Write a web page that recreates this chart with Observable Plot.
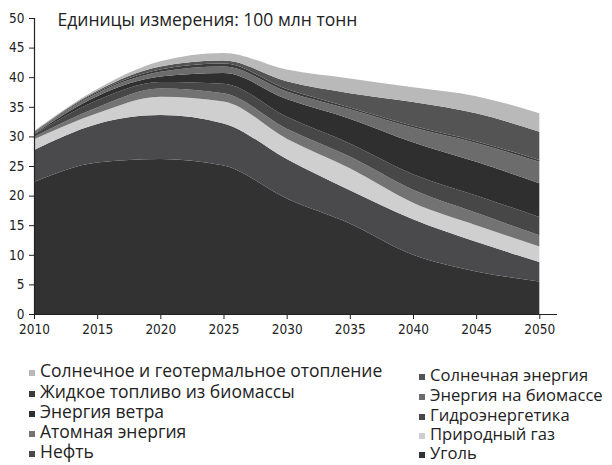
<!DOCTYPE html>
<html>
<head>
<meta charset="utf-8">
<script src="https://cdn.jsdelivr.net/npm/d3@7"></script>
<script src="https://cdn.jsdelivr.net/npm/@observablehq/plot@0.6"></script>
<style>
  body { margin: 0; background: #fff; width: 612px; height: 465px; overflow: hidden; position: relative; }
  #chart { position: absolute; left: 0; top: 0; }
  .leg { position: absolute; font-family: "Open Sans", "Noto Sans", sans-serif; color: #222; white-space: nowrap; line-height: 1; }
  .sw { position: absolute; width: 6px; height: 6px; }
</style>
</head>
<body>
<div id="chart"></div>
<div id="legend"></div>
<script>
const years = [2010, 2015, 2020, 2025, 2030, 2035, 2040, 2045, 2050];

// series, bottom to top of the stack
const seriesNames = [
  "Уголь",
  "Нефть",
  "Природный газ",
  "Атомная энергия",
  "Гидроэнергетика",
  "Энергия ветра",
  "Энергия на биомассе",
  "Жидкое топливо из биомассы",
  "Солнечная энергия",
  "Солнечное и геотермальное отопление"
];

const coal    = [22.3, 25.6, 26.2, 25.1, 19.5, 15.3, 10.0, 7.2, 5.5];
const oil     = [5.4, 6.5, 7.4, 7.1, 6.7, 5.6, 6.0, 5.0, 3.3];
const gas     = [1.8, 1.8, 3.1, 3.7, 3.4, 3.7, 2.8, 2.8, 2.6];
const nuclear = [0.4, 1.0, 1.4, 1.4, 1.7, 2.0, 2.2, 2.1, 1.9];
const hydro   = [0.4, 1.2, 1.1, 1.6, 2.0, 2.2, 2.6, 2.9, 3.1];
const wind    = [0.1, 0.7, 0.9, 1.8, 3.0, 4.2, 5.4, 5.7, 5.7];
const biomass = [0.3, 0.5, 0.8, 1.1, 1.3, 1.6, 2.5, 3.2, 3.6];
const biofuel = [0.05, 0.2, 0.4, 0.5, 0.4, 0.3, 0.3, 0.3, 0.3];
const solar   = [0.05, 0.2, 0.5, 0.5, 1.3, 2.4, 4.0, 4.7, 4.8];
const heating = [0.1, 0.3, 0.9, 1.3, 2.0, 2.5, 2.5, 2.9, 3.1];

const seriesValues = [coal, oil, gas, nuclear, hydro, wind, biomass, biofuel, solar, heating];

const colors = ["#323232", "#4a4a4c", "#cfcfcf", "#737373", "#474747", "#2f2f2f", "#6c6c6c", "#3b3b3b", "#545454", "#b9b9b9"];

const yTicks = [0, 5, 10, 15, 20, 25, 30, 35, 40, 45, 50];
const xTicks = [2010, 2015, 2020, 2025, 2030, 2035, 2040, 2045, 2050];
const unitLabel = "Единицы измерения: 100 млн тонн";

// legend layout: left column then right column (top to bottom)
const legendLeft = ["Солнечное и геотермальное отопление", "Жидкое топливо из биомассы", "Энергия ветра", "Атомная энергия", "Нефть"];
const legendRight = ["Солнечная энергия", "Энергия на биомассе", "Гидроэнергетика", "Природный газ", "Уголь"];

const data = [];
seriesNames.forEach((s, i) => years.forEach((y, j) => data.push({series: s, year: y, value: seriesValues[i][j]})));

const tickFont = "'DejaVu Sans Condensed', 'Liberation Sans Narrow', 'DejaVu Sans', sans-serif";

const plot = Plot.plot({
  width: 612,
  height: 345,
  marginLeft: 34,
  marginRight: 55,
  marginTop: 18,
  marginBottom: 31,
  style: {fontFamily: tickFont, fontSize: "13.5px", color: "#222", background: "transparent"},
  x: {domain: [2010, 2051.4], ticks: xTicks, tickFormat: "d", tickSize: 5, label: null, tickPadding: 5},
  y: {domain: [0, 50], ticks: yTicks, tickSize: 5, label: null, tickPadding: 5},
  color: {domain: seriesNames, range: colors},
  marks: [
    Plot.areaY(data, {x: "year", y: "value", z: "series", fill: "series", order: seriesNames, curve: "monotone-x"}),
    Plot.ruleY([0], {stroke: "#222", strokeWidth: 1.2}),
    Plot.ruleX([2010], {stroke: "#222", strokeWidth: 1.2}),
    Plot.text([unitLabel], {frameAnchor: "top-left", dx: 23, dy: -5, text: d => d, fontSize: 17.5, fill: "#222", textAnchor: "start", fontFamily: "'Open Sans', 'Noto Sans', sans-serif"})
  ]
});
document.getElementById("chart").appendChild(plot);

const colorOf = Object.fromEntries(seriesNames.map((s, i) => [s, colors[i]]));
const legend = document.getElementById("legend");
function addItem(name, x, c, fs) {
  const sw = document.createElement("div");
  sw.className = "sw";
  sw.style.left = x + "px";
  sw.style.top = (c - 2) + "px";
  sw.style.background = colorOf[name];
  legend.appendChild(sw);
  const t = document.createElement("div");
  t.className = "leg";
  t.style.fontSize = fs + "px";
  t.style.left = (x + 11) + "px";
  t.style.top = (c - fs * 0.55) + "px";
  t.textContent = name;
  legend.appendChild(t);
}
const leftC = [372, 393, 413, 433, 453];
const rightC = [376, 396, 416, 435, 454];
legendLeft.forEach((n, i) => addItem(n, 29, leftC[i], 17.5));
legendRight.forEach((n, i) => addItem(n, 419, rightC[i], 16.6));
</script>
</body>
</html>
